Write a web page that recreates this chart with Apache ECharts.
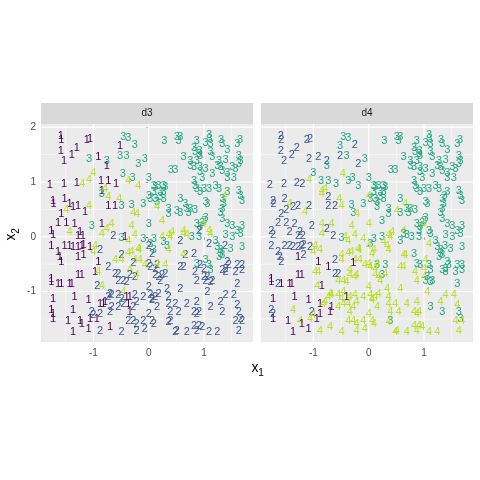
<!DOCTYPE html>
<html><head><meta charset="utf-8">
<script src="https://cdn.jsdelivr.net/npm/echarts@6/dist/echarts.min.js"></script>
<style>html,body{margin:0;padding:0;background:#fff}#c{width:480px;height:480px}</style>
</head><body><div id="c"></div>
<script>
// ---- data ----
const panels = ['d3', 'd4'];
const x1 = [
-1.59,-1.58,-1.12,-1.06,-0.46,-0.37,-0.25,-0.52,-1.59,-1.53,
-1.39,-1.30,-0.91,-1.08,-0.76,-0.76,-0.52,-0.40,-0.19,-0.07,
-0.47,-0.29,-0.37,-0.19,-1.00,-1.08,-1.20,-1.79,-1.53,-1.30,
-0.86,-0.73,-0.59,-0.85,-0.85,-0.73,-0.79,-1.73,-1.72,-1.52,
-1.43,-1.37,-1.49,-1.28,-1.15,-1.08,-0.73,-0.53,-0.49,-0.61,
-0.31,-0.28,-0.21,-0.10,-1.58,-1.64,-1.49,-1.34,-1.03,-0.85,
-0.67,-0.31,-1.76,-1.24,-1.43,-0.76,-1.73,-1.19,-1.28,-0.85,
-0.64,-0.49,-0.43,-0.37,-0.25,-0.19,-0.17,-0.10,-1.76,-1.52,
-1.43,-1.37,-1.28,-1.21,-1.18,-1.06,-1.00,-0.97,-0.88,-0.49,
-1.61,-1.58,-1.64,-1.28,-1.18,-0.91,-0.61,-0.49,-0.37,-0.31,
-0.25,-0.16,-0.28,-0.07,-0.97,-0.73,-0.91,-0.61,-0.55,-0.34,
-0.34,-0.25,-0.46,-0.40,-0.55,-0.22,-1.76,-1.76,-1.64,-1.58,
-1.43,-1.39,-1.28,-1.21,-0.93,-0.85,-0.46,-0.70,-0.67,-0.73,
-0.55,-0.49,-0.40,-0.34,-0.25,-0.22,-0.10,-1.73,-1.34,-1.09,
-0.88,-0.82,-0.79,-0.67,-0.55,-0.46,-0.37,-0.34,-0.28,-1.76,
-1.73,-1.37,-1.03,-1.00,-0.88,-1.06,-0.94,-0.70,-1.73,-1.46,
-1.24,-1.21,-1.09,-1.37,-0.88,-0.70,-0.49,-0.37,-0.28,-0.22,
-0.22,-0.10,-0.07,
0.28,0.51,0.57,0.54,1.09,1.10,1.12,0.87,1.03,1.31,
1.33,1.65,1.60,1.42,0.82,0.84,0.91,0.93,0.92,0.63,
0.75,0.87,1.12,1.15,1.27,1.39,1.63,1.66,1.63,0.40,
0.48,0.75,0.82,0.93,1.03,0.93,0.97,1.15,1.24,1.30,
1.33,1.42,1.42,1.51,1.57,
1.54,0.00,0.09,0.12,0.18,0.27,0.30,0.27,0.21,0.09,
0.82,0.84,0.87,0.93,1.00,1.09,1.21,1.27,1.42,1.63,
1.66,1.37,1.33,1.36,1.69,0.00,0.03,0.12,0.21,0.27,
0.15,0.15,0.57,0.66,0.69,1.03,1.06,0.36,0.36,0.51,
0.57,0.72,0.75,0.84,1.03,1.00,1.33,1.30,1.33,1.42,
1.51,1.69,1.60,0.24,0.87,0.97,0.93,0.99,0.00,0.42,
0.63,1.09,0.91,
0.09,0.03,0.09,0.36,0.39,0.24,0.63,0.69,0.27,0.33,
0.36,0.57,0.78,0.91,1.12,1.39,1.51,1.66,1.09,1.24,
1.21,1.30,1.30,1.27,1.33,1.38,1.48,1.69,0.00,0.06,
0.82,0.66,0.63,1.03,0.87,0.93,1.00,1.12,1.09,1.45,
1.39,1.42,1.60,1.69,1.57,1.69,0.00,0.03,0.15,0.12,
0.15,0.30,0.57,0.63,0.12,0.18,0.24,0.30,0.21,0.84,
0.87,1.00,1.03,1.06,1.12,1.15,1.33,1.39,0.00,0.03,
0.06,0.12,0.18,0.33,0.57,1.06,1.39,1.54,1.60,0.36,
0.36,0.48,0.15,0.06,0.69,0.87,1.12,1.30,1.33,1.60,
1.63,0.39,0.54,0.39,0.36,0.82,0.87,0.91,0.06,0.09,
0.00,1.66,1.69,1.57,1.63,0.82,0.91,0.97,0.87,0.51,
0.48,0.69,1.09,1.24
];
const x2 = [
1.84,1.77,1.76,1.78,1.82,1.81,1.68,1.66,1.57,1.38,
1.50,1.62,1.46,1.42,1.39,1.30,1.48,1.48,1.33,1.42,
1.14,1.08,1.02,0.93,1.17,1.03,0.97,0.94,0.97,0.99,
1.02,1.02,0.96,0.84,0.78,0.73,0.87,0.66,0.60,0.69,
0.60,0.54,0.49,0.57,0.45,0.57,0.57,0.69,0.57,0.57,
0.58,0.43,0.41,0.60,0.41,0.26,0.26,0.23,0.20,0.23,
0.23,0.20,0.11,0.09,0.09,0.14,0.04,0.01,0.01,0.05,
0.01,-0.02,0.00,-0.07,0.03,-0.22,-0.25,-0.04,-0.17,-0.16,
-0.16,-0.19,-0.19,-0.16,-0.15,-0.19,-0.28,-0.16,-0.25,-0.34,
-0.37,-0.46,-0.28,-0.37,-0.34,-0.46,-0.43,-0.43,-0.30,-0.28,
-0.43,-0.43,-0.47,-0.52,-0.64,-0.55,-0.64,-0.67,-0.67,-0.61,
-0.70,-0.74,-0.80,-0.83,-0.80,-0.70,-0.77,-0.83,-0.86,-0.86,
-0.86,-0.86,-0.70,-0.70,-0.89,-0.89,-1.01,-1.04,-1.07,-1.10,
-1.07,-1.13,-1.10,-1.10,-1.07,-1.19,-1.10,-1.13,-1.10,-1.16,
-1.22,-1.22,-1.19,-1.28,-1.28,-1.22,-1.22,-1.37,-1.28,-1.34,
-1.41,-1.34,-1.37,-1.43,-1.41,-1.50,-1.50,-1.37,-1.50,-1.53,
-1.53,-1.59,-1.68,-1.73,-1.71,-1.65,-1.73,-1.53,-1.53,-1.59,
-1.71,-1.53,-1.68,
1.74,1.82,1.82,1.75,1.86,1.78,1.70,1.75,1.72,1.76,
1.69,1.76,1.69,1.58,1.62,1.54,1.51,1.48,1.57,1.45,
1.39,1.39,1.54,1.45,1.39,1.40,1.48,1.39,1.33,1.22,
1.22,1.30,1.27,1.27,1.24,1.18,1.08,1.14,1.30,1.27,
1.20,1.17,1.08,1.27,1.24,
1.08,1.08,0.93,0.90,0.93,0.93,0.90,0.81,0.81,0.81,
1.02,0.93,0.87,0.81,0.87,0.87,0.93,0.87,0.81,0.84,
0.75,0.75,0.69,0.60,0.66,0.75,0.69,0.69,0.72,0.69,
0.63,0.54,0.69,0.60,0.51,0.63,0.60,0.51,0.41,0.47,
0.44,0.44,0.51,0.49,0.35,0.29,0.51,0.44,0.32,0.23,
0.20,0.20,0.11,0.29,0.23,0.26,0.17,0.24,0.23,0.08,
0.11,0.11,0.11,
-0.04,-0.13,-0.25,0.03,-0.01,-0.01,0.05,0.03,-0.10,-0.16,
-0.25,-0.07,-0.01,-0.01,0.05,0.03,-0.01,0.05,-0.13,-0.19,
-0.07,-0.25,-0.31,-0.37,-0.34,-0.16,-0.22,-0.19,-0.16,-0.31,
-0.31,-0.34,-0.34,-0.43,-0.49,-0.52,-0.58,-0.61,-0.52,-0.52,
-0.58,-0.46,-0.52,-0.52,-0.64,-0.61,-0.49,-0.55,-0.52,-0.58,
-0.49,-0.52,-0.55,-0.55,-0.70,-0.74,-0.70,-0.67,-0.80,-0.64,
-0.80,-0.74,-0.80,-0.74,-0.83,-0.80,-0.61,-0.64,-0.92,-1.07,
-1.13,-1.10,-1.04,-0.95,-0.95,-1.01,-1.07,-1.07,-0.86,-1.10,
-1.22,-1.22,-1.28,-1.16,-1.22,-1.19,-1.28,-1.19,-1.37,-1.25,
-1.37,-1.37,-1.37,-1.53,-1.56,-1.37,-1.40,-1.37,-1.53,-1.59,
-1.41,-1.50,-1.53,-1.53,-1.71,-1.62,-1.62,-1.65,-1.71,-1.71,
-1.74,-1.73,-1.74,-1.74
];
const classD3 = [
1,1,1,1,3,3,3,1,1,1, 1,1,1,3,3,1,3,3,3,3, 3,3,4,4,4,4,4,1,1,1, 1,1,1,1,3,4,4,1,1,1,
1,1,4,1,1,4,1,4,3,1, 3,4,4,3,1,1,1,1,3,1, 4,4,1,1,4,4,1,1,1,4, 2,3,1,4,4,4,4,3,1,1,
1,1,1,1,1,1,4,4,2,2, 1,1,1,1,1,1,4,4,4,4, 4,4,2,4,1,2,4,2,2,4, 2,2,2,2,2,4,1,1,1,1,
1,1,1,1,2,4,4,2,2,2, 2,2,1,1,2,2,2,1,1,1, 1,1,1,2,2,2,1,1,2,1, 1,1,2,2,2,1,1,2,1,1,
1,1,1,1,2,1,2,2,2,2, 2,2,2,
3,3,3,3,3,3,3,3,3,3, 3,3,3,3,3,3,3,3,3,3, 3,3,3,3,3,3,3,3,3,3, 3,3,3,3,3,3,3,3,3,3,
3,3,3,3,3,
3,3,3,3,3,3,3,3,3,3, 3,3,3,3,3,3,3,3,3,3, 3,4,3,3,3,3,3,3,3,3, 3,4,3,3,3,3,3,3,3,3,
3,3,3,3,3,3,3,3,3,3, 3,3,3,4,3,3,3,4,3,4, 4,4,2,
3,3,3,4,4,4,4,4,3,3, 4,2,3,3,4,3,3,3,2,3, 3,3,3,3,3,2,3,3,2,2, 2,2,4,3,3,2,2,3,3,2,
2,2,2,2,2,2,2,2,2,2, 4,4,2,2,2,2,2,2,2,2, 2,2,2,2,2,2,2,2,2,2, 2,2,2,2,2,2,2,2,2,2,
2,2,2,2,2,2,2,2,2,2, 2,2,2,2,2,2,2,2,2,2, 2,2,2,2,2,2,2,2,2,2, 2,2,2,2
];
const classD4 = [
2,2,2,2,3,3,2,3,2,2, 2,2,2,2,2,3,2,3,2,3, 4,3,3,3,3,4,2,2,2,2, 3,3,3,4,4,2,4,2,2,2,
4,2,2,2,4,2,2,4,4,2, 3,3,4,3,2,2,2,2,2,4, 4,4,2,2,2,2,2,2,2,4, 2,3,4,4,4,4,4,4,2,2,
2,2,2,2,2,2,4,4,4,4, 2,2,2,1,2,1,2,4,4,4, 4,4,1,4,4,1,4,2,2,4, 4,4,4,4,4,4,1,1,2,1,
1,1,1,1,4,1,4,4,4,4, 4,4,1,4,4,4,4,1,1,1, 1,4,4,1,4,4,4,4,4,2, 2,4,2,4,1,4,1,1,1,1,
4,1,1,1,4,4,4,4,4,4, 4,4,4,
3,3,3,3,3,3,3,3,3,3, 3,3,3,3,3,3,3,3,3,3, 3,3,3,3,3,3,3,3,3,3, 3,3,3,3,3,3,3,3,3,3,
3,3,3,3,3,
3,3,3,3,3,3,3,3,3,3, 3,3,3,3,3,3,3,3,3,3, 3,3,3,3,3,4,3,3,3,3, 3,3,3,4,3,3,3,3,3,4,
3,3,3,3,3,3,3,3,3,3, 3,3,3,3,3,3,3,4,4,4, 4,3,3,
3,3,4,4,4,3,3,3,4,4, 4,3,3,3,3,3,3,3,4,3, 3,3,3,3,3,3,3,3,4,4, 3,4,4,4,3,3,4,3,3,3,
3,3,3,3,3,3,4,4,3,4, 4,3,4,4,4,4,3,4,4,4, 4,4,3,3,3,3,3,3,4,4, 4,4,4,4,4,4,4,4,3,4,
4,4,4,4,4,4,3,4,3,4, 3,4,4,3,4,4,4,4,4,4, 4,3,4,4,4,4,4,4,4,4, 4,4,4,4
];
const xTicks = [-1, 0, 1];
const yTicks = [-1, 0, 1, 2];
const xMinor = [-1.5, -0.5, 0.5, 1.5];
const yMinor = [-1.5, -0.5, 0.5, 1.5];

// ---- styling / layout ----
const classColors = {1: '#440154', 2: '#39568C', 3: '#22A884', 4: '#BBDF27'};
const FONT = '"Liberation Sans", Arial, sans-serif';
const X_RANGE = [-1.948, 1.886];
const Y_RANGE = [-1.92, 2.057];
const grids = [
  {left: 41, top: 124, width: 212, height: 218},
  {left: 261, top: 124, width: 212, height: 218}
];
const panelClasses = [classD3, classD4];

const chart = echarts.init(document.getElementById('c'), null, {renderer: 'canvas'});

function gridLineData() {
  const d = [];
  xTicks.forEach(v => d.push([v, 0, 1, 0]));
  xMinor.forEach(v => d.push([v, 0, 0, 0]));
  yTicks.forEach(v => d.push([0, v, 1, 1]));
  yMinor.forEach(v => d.push([0, v, 0, 1]));
  return d;
}

const series = [];
grids.forEach((g, i) => {
  series.push({
    type: 'custom', xAxisIndex: i, yAxisIndex: i, z: 1, silent: true,
    data: gridLineData(),
    renderItem: (params, api) => {
      const cs = params.coordSys;
      const horiz = api.value(3) === 1;
      const major = api.value(2) === 1;
      let shape;
      if (!horiz) {
        const px = api.coord([api.value(0), 0])[0];
        shape = {x1: px, y1: cs.y, x2: px, y2: cs.y + cs.height};
      } else {
        const py = api.coord([0, api.value(1)])[1];
        shape = {x1: cs.x, y1: py, x2: cs.x + cs.width, y2: py};
      }
      return {type: 'line', shape, style: {stroke: '#FFFFFF', lineWidth: major ? 1.1 : 0.55}};
    }
  });
  const cls = panelClasses[i];
  series.push({
    type: 'custom', xAxisIndex: i, yAxisIndex: i, z: 3, clip: true,
    data: x1.map((x, k) => [x, x2[k], cls[k]]),
    renderItem: (params, api) => {
      const p = api.coord([api.value(0), api.value(1)]);
      const c = api.value(2);
      return {type: 'text', x: p[0], y: p[1], style: {
        text: String(c), fill: classColors[c], font: '11px ' + FONT,
        align: 'center', verticalAlign: 'middle', textAlign: 'center', textVerticalAlign: 'middle'}};
    }
  });
});

const graphic = [];
grids.forEach((g, i) => {
  graphic.push({type: 'rect', shape: {x: g.left, y: 103, width: g.width, height: 21}, style: {fill: '#D9D9D9'}, silent: true});
  graphic.push({type: 'text', x: g.left + g.width / 2, y: 113.5, style: {text: panels[i], fill: '#1A1A1A', font: '10px ' + FONT, align: 'center', verticalAlign: 'middle'}});
});
graphic.push({type: 'text', x: 255, y: 368, style: {text: 'x', fill: '#000', font: '14px ' + FONT, align: 'center', verticalAlign: 'middle'}});
graphic.push({type: 'text', x: 261, y: 373, style: {text: '1', fill: '#000', font: '10px ' + FONT, align: 'center', verticalAlign: 'middle'}});
graphic.push({type: 'group', x: 11, y: 237, rotation: Math.PI / 2, children: [
  {type: 'text', x: 0, y: 0, style: {text: 'x', fill: '#000', font: '14px ' + FONT, align: 'center', verticalAlign: 'middle'}},
  {type: 'text', x: 6, y: 5, style: {text: '2', fill: '#000', font: '10px ' + FONT, align: 'center', verticalAlign: 'middle'}}
]});

const xAxes = grids.map((g, i) => ({
  type: 'value', gridIndex: i, min: X_RANGE[0], max: X_RANGE[1],
  axisLine: {show: false}, splitLine: {show: false},
  axisTick: {show: true, length: 3, lineStyle: {color: '#333333', width: 1}, customValues: xTicks},
  axisLabel: {customValues: xTicks, color: '#4D4D4D', fontSize: 10, fontFamily: FONT, margin: 6}
}));
const yAxes = grids.map((g, i) => ({
  type: 'value', gridIndex: i, min: Y_RANGE[0], max: Y_RANGE[1],
  axisLine: {show: false}, splitLine: {show: false},
  axisTick: {show: i === 0, length: 3, lineStyle: {color: '#333333', width: 1}, customValues: yTicks},
  axisLabel: {show: i === 0, customValues: yTicks, color: '#4D4D4D', fontSize: 10, fontFamily: FONT, margin: 5}
}));

chart.setOption({
  animation: false,
  backgroundColor: '#FFFFFF',
  grid: grids.map(g => Object.assign({show: true, backgroundColor: '#EBEBEB', borderWidth: 0}, g)),
  xAxis: xAxes,
  yAxis: yAxes,
  series: series,
  graphic: graphic
});
</script>
</body></html>
